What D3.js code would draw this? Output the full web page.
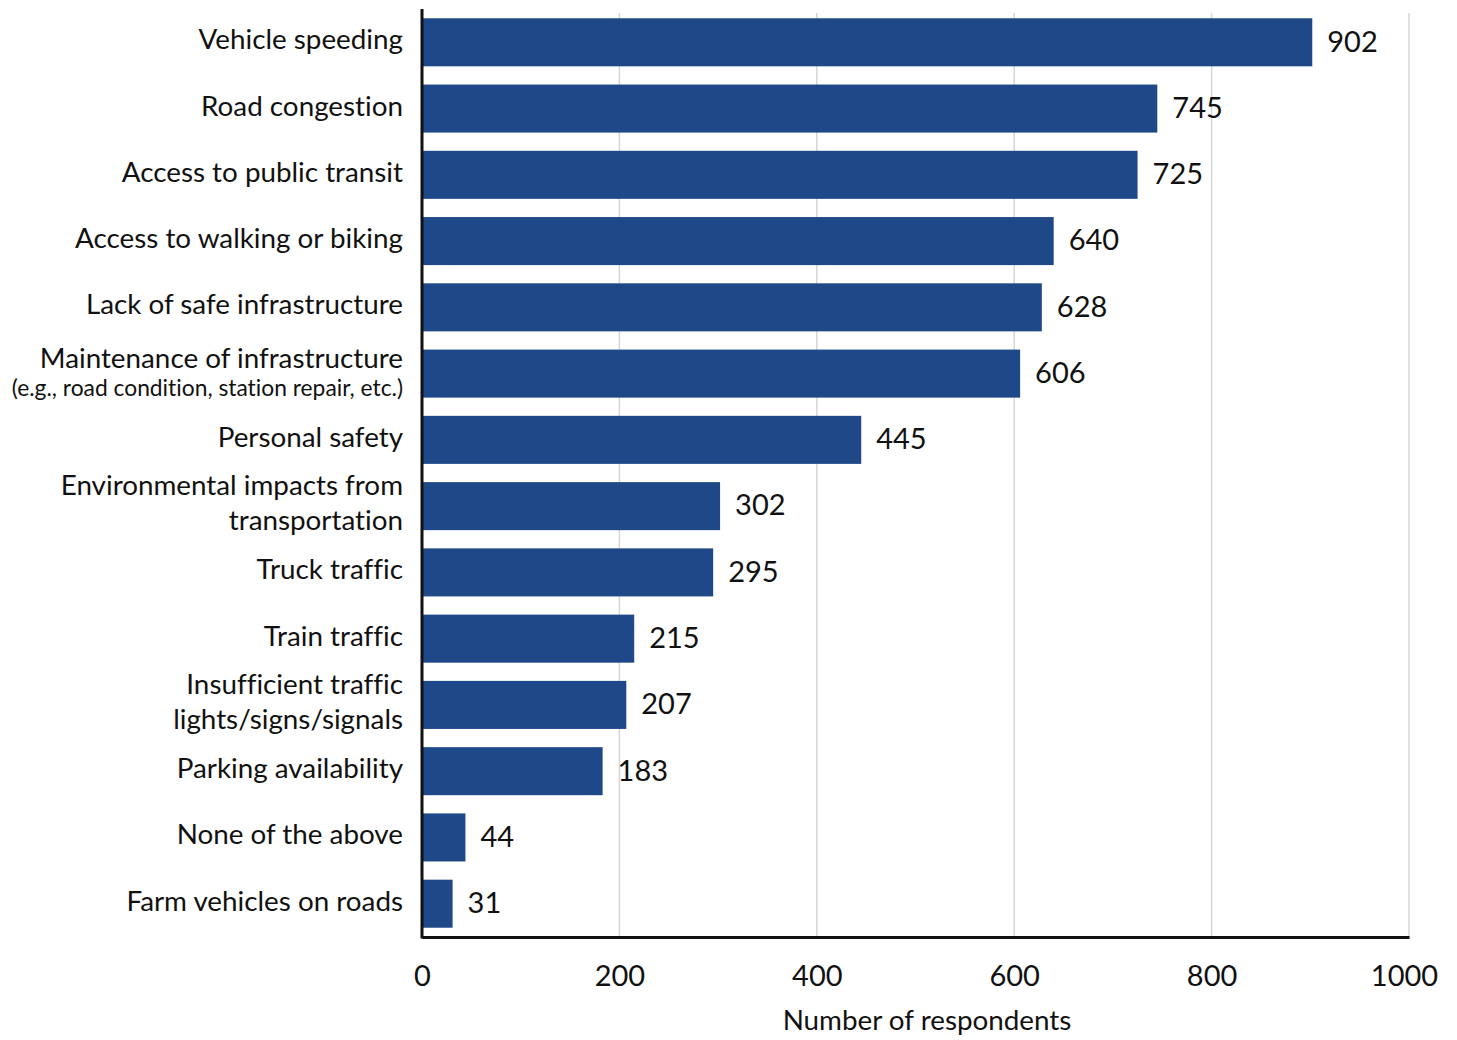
<!DOCTYPE html>
<html><head><meta charset="utf-8">
<script src="https://cdn.jsdelivr.net/npm/d3@7"></script>
<style>body{margin:0;background:#fff}svg{display:block}text{font-family:Lato,"Noto Sans",sans-serif;fill:#111;font-variant-ligatures:none}</style>
</head><body><svg id="c" width="1457" height="1040"></svg>
<script>
const categories = [
  ["Vehicle speeding"],
  ["Road congestion"],
  ["Access to public transit"],
  ["Access to walking or biking"],
  ["Lack of safe infrastructure"],
  ["Maintenance of infrastructure", "(e.g., road condition, station repair, etc.)"],
  ["Personal safety"],
  ["Environmental impacts from", "transportation"],
  ["Truck traffic"],
  ["Train traffic"],
  ["Insufficient traffic", "lights/signs/signals"],
  ["Parking availability"],
  ["None of the above"],
  ["Farm vehicles on roads"]
];
const values = [902, 745, 725, 640, 628, 606, 445, 302, 295, 215, 207, 183, 44, 31];
const xTicks = [0, 200, 400, 600, 800, 1000];
const xTitle = "Number of respondents";

(function () {
const svg = d3.select("#c");
const mLeft = 422, mRight = 1409, mTop = 9, mBottom = 937;
const x = d3.scaleLinear().domain([0, 1000]).range([mLeft, mRight]);
const y = d3.scaleBand().domain(d3.range(categories.length)).range([mTop, mBottom]).paddingInner(0.275).paddingOuter(0.14);

svg.append("g").selectAll("line").data(xTicks.filter(d => d > 0)).join("line")
  .attr("x1", d => x(d)).attr("x2", d => x(d)).attr("y1", 13).attr("y2", mBottom)
  .attr("stroke", "#d6d6d6").attr("stroke-width", 1.5);

svg.append("g").selectAll("rect").data(values).join("rect")
  .attr("x", x(0)).attr("y", (d, i) => y(i)).attr("width", d => x(d) - x(0)).attr("height", y.bandwidth())
  .attr("fill", "#1f4889");

svg.append("g").selectAll("text").data(values).join("text")
  .attr("x", d => x(d) + 15).attr("y", (d, i) => y(i) + y.bandwidth() / 2 + 2)
  .attr("dominant-baseline", "middle").attr("font-size", 29).text(d => d);

const cl = svg.append("g");
const fs = 27.8;
categories.forEach((lines, i) => {
  const cy = y(i) + y.bandwidth() / 2;
  if (lines.length === 1) {
    cl.append("text").attr("x", 403).attr("y", cy).attr("text-anchor", "end")
      .attr("dominant-baseline", "middle").attr("font-size", fs).text(lines[0]);
  } else if (lines[1].startsWith("(")) {
    cl.append("text").attr("x", 403).attr("y", cy - 13).attr("text-anchor", "end")
      .attr("dominant-baseline", "middle").attr("font-size", fs).text(lines[0]);
    cl.append("text").attr("x", 403).attr("y", cy + 17).attr("text-anchor", "end")
      .attr("dominant-baseline", "middle").attr("font-size", 22.8).text(lines[1]);
  } else {
    lines.forEach((t, k) => {
      cl.append("text").attr("x", 403).attr("y", cy - 18 + k * 35).attr("text-anchor", "end")
        .attr("dominant-baseline", "middle").attr("font-size", fs).text(t);
    });
  }
});

const xa = svg.append("g").attr("transform", `translate(0,${mBottom})`)
  .call(d3.axisBottom(x).tickValues(xTicks).tickFormat(d3.format("d")).tickSize(0).tickPadding(28));
xa.select(".domain").attr("stroke", "#111").attr("stroke-width", 3);
xa.selectAll("text").attr("font-size", 29).attr("font-family", "Lato, 'Noto Sans', sans-serif").attr("fill", "#111");
xa.selectAll(".tick").filter(d => d === 1000).select("text").attr("dx", -5);

svg.append("line").attr("x1", mLeft).attr("x2", mLeft).attr("y1", mTop).attr("y2", mBottom + 1.5)
  .attr("stroke", "#111").attr("stroke-width", 3);

svg.append("text").attr("x", 927).attr("y", 1023).attr("text-anchor", "middle")
  .attr("dominant-baseline", "middle").attr("font-size", 27.8).text(xTitle);
})();
</script></body></html>
